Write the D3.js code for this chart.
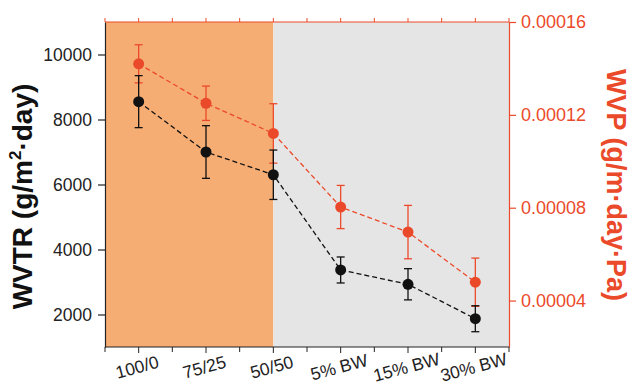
<!DOCTYPE html>
<html>
<head>
<meta charset="utf-8">
<script src="https://cdn.jsdelivr.net/npm/d3@7"></script>
<style>
  body { margin: 0; background: #fff; }
  svg text { font-family: "Liberation Sans", Arial, sans-serif; }
</style>
</head>
<body>
<div id="chart"></div>
<script>
// data
var categories = ["100/0", "75/25", "50/50", "5% BW", "15% BW", "30% BW"];
var wvtr = [8550, 7000, 6300, 3370, 2930, 1870];
var wvtrErr = [800, 810, 760, 400, 480, 400];
var wvp = [0.000142, 0.000125, 0.000112, 0.0000803, 0.0000695, 0.0000479];
var wvpErr = [0.0000082, 0.0000074, 0.0000128, 0.0000093, 0.0000115, 0.0000104];
var leftTicks = [2000, 4000, 6000, 8000, 10000];
var leftMinor = [1000, 3000, 5000, 7000, 9000, 11000];
var rightTicks = [0.00004, 0.00008, 0.00012, 0.00016];
var rightMinor = [0.00002, 0.00006, 0.0001, 0.00014];

var width = 631, height = 385;
var margin = { top: 22, right: 122, bottom: 38, left: 105 };
var red = "#eb4a2a", black = "#111", orange = "#f6ad73", grey = "#e6e5e5";

var svg = d3.select("#chart").append("svg")
  .attr("width", width)
  .attr("height", height);

var x = d3.scaleBand()
  .domain(categories)
  .range([margin.left, width - margin.right])
  .padding(0);
var cx = function (c) { return x(c) + x.bandwidth() / 2; };

var yL = d3.scaleLinear().domain([1000, 11000]).range([height - margin.bottom, margin.top]);
var yR = d3.scaleLinear().domain([0.00002, 0.00016]).range([height - margin.bottom, margin.top]);

// background panels
var split = cx("50/50");
svg.append("rect")
  .attr("x", margin.left).attr("y", margin.top)
  .attr("width", split - margin.left)
  .attr("height", height - margin.top - margin.bottom)
  .attr("fill", orange);
svg.append("rect")
  .attr("x", split).attr("y", margin.top)
  .attr("width", width - margin.right - split)
  .attr("height", height - margin.top - margin.bottom)
  .attr("fill", grey);

// left axis
var gl = svg.append("g")
  .attr("transform", "translate(" + margin.left + ",0)");
gl.call(d3.axisLeft(yL).tickValues(leftMinor).tickSize(4).tickFormat("").tickSizeOuter(0));
gl.call(d3.axisLeft(yL).tickValues(leftTicks).tickSize(7).tickPadding(6)
  .tickFormat(d3.format("d")).tickSizeOuter(0));
gl.selectAll("path, line").attr("stroke", "#222").attr("stroke-width", 1.2);
gl.selectAll("text").attr("fill", "#222").style("font-size", "17.5px");

// right axis
var gr = svg.append("g")
  .attr("transform", "translate(" + (width - margin.right) + ",0)");
gr.call(d3.axisRight(yR).tickValues(rightMinor).tickSize(4).tickFormat("").tickSizeOuter(0));
gr.call(d3.axisRight(yR).tickValues(rightTicks).tickSize(7).tickPadding(5)
  .tickFormat(function (d) { return d.toFixed(5); }).tickSizeOuter(0));
gr.selectAll("path, line").attr("stroke", red).attr("stroke-width", 1.2);
gr.selectAll("text").attr("fill", red).style("font-size", "18px");

// bottom axis: ticks at centres and band edges
var edges = categories.map(function (c) { return x(c); }).concat([width - margin.right]);
var gb = svg.append("g")
  .attr("transform", "translate(0," + (height - margin.bottom) + ")");
gb.append("line")
  .attr("x1", margin.left).attr("x2", width - margin.right)
  .attr("stroke", "#222").attr("stroke-width", 1.2);
gb.selectAll(".minor").data(edges).enter().append("line")
  .attr("x1", function (d) { return d; }).attr("x2", function (d) { return d; })
  .attr("y1", 0).attr("y2", 5)
  .attr("stroke", "#222");
gb.selectAll(".major").data(categories).enter().append("line")
  .attr("x1", cx).attr("x2", cx)
  .attr("y1", 0).attr("y2", 6)
  .attr("stroke", "#222");
gb.selectAll("text").data(categories).enter().append("text")
  .attr("transform", function (d) { return "translate(" + cx(d) + ",26) rotate(-15)"; })
  .attr("text-anchor", "middle")
  .attr("fill", "#222")
  .style("font-size", "17.5px")
  .text(function (d) { return d; });

// top axis (red)
var gt = svg.append("g")
  .attr("transform", "translate(0," + margin.top + ")");
gt.append("line")
  .attr("x1", margin.left).attr("x2", width - margin.right)
  .attr("stroke", red).attr("stroke-width", 1.2);
gt.selectAll(".tick").data(edges.concat(categories.map(cx))).enter().append("line")
  .attr("x1", function (d) { return d; }).attr("x2", function (d) { return d; })
  .attr("y1", 0).attr("y2", -4)
  .attr("stroke", red);

// series
function drawSeries(vals, errs, y, color) {
  var g = svg.append("g");
  var line = d3.line()
    .x(function (d, i) { return cx(categories[i]); })
    .y(function (d) { return y(d); });
  g.append("path")
    .datum(vals)
    .attr("d", line)
    .attr("fill", "none")
    .attr("stroke", color)
    .attr("stroke-width", 1.3)
    .attr("stroke-dasharray", "5,3");
  var eb = g.selectAll(".err").data(vals).enter().append("g");
  eb.append("line")
    .attr("x1", function (d, i) { return cx(categories[i]); })
    .attr("x2", function (d, i) { return cx(categories[i]); })
    .attr("y1", function (d, i) { return y(d + errs[i]); })
    .attr("y2", function (d, i) { return y(d - errs[i]); })
    .attr("stroke", color).attr("stroke-width", 1.3);
  [1, -1].forEach(function (s) {
    eb.append("line")
      .attr("x1", function (d, i) { return cx(categories[i]) - 4; })
      .attr("x2", function (d, i) { return cx(categories[i]) + 4; })
      .attr("y1", function (d, i) { return y(d + s * errs[i]); })
      .attr("y2", function (d, i) { return y(d + s * errs[i]); })
      .attr("stroke", color).attr("stroke-width", 1.3);
  });
  g.selectAll("circle").data(vals).enter().append("circle")
    .attr("cx", function (d, i) { return cx(categories[i]); })
    .attr("cy", function (d) { return y(d); })
    .attr("r", 5.5)
    .attr("fill", color);
}
drawSeries(wvp, wvpErr, yR, red);
drawSeries(wvtr, wvtrErr, yL, black);

// axis titles
svg.append("text")
  .attr("transform", "translate(32," + ((margin.top + height - margin.bottom) / 2 + 12) + ") rotate(-90)")
  .attr("text-anchor", "middle")
  .attr("fill", black)
  .style("font-size", "28px")
  .style("font-weight", "bold")
  .html('WVTR (g/m<tspan dy="-11" font-size="17">2</tspan><tspan dy="11">·day)</tspan>');

svg.append("text")
  .attr("transform", "translate(607,185) rotate(90)")
  .attr("text-anchor", "middle")
  .attr("fill", red)
  .style("font-size", "27px")
  .style("font-weight", "bold")
  .text("WVP (g/m·day·Pa)");
</script>
</body>
</html>
